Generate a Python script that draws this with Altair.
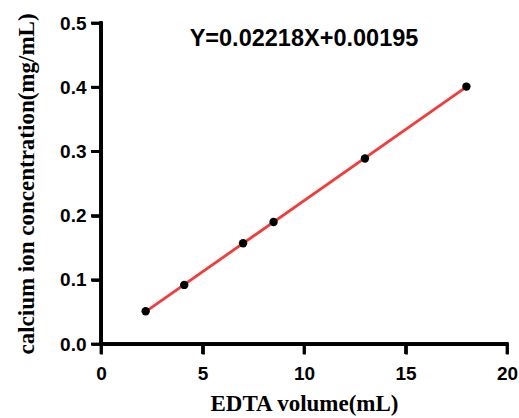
import altair as alt
import pandas as pd

# Data
edta_volume = [2.2, 4.1, 7.0, 8.5, 13.0, 18.0]
calcium_conc = [0.051, 0.092, 0.157, 0.190, 0.289, 0.401]
x_ticks = [0, 5, 10, 15, 20]
y_ticks = [0.0, 0.1, 0.2, 0.3, 0.4, 0.5]
equation = ["Y=0.02218X+0.00195"]

df = pd.DataFrame({"x": edta_volume, "y": calcium_conc})
xt = pd.DataFrame({"t": x_ticks})
yt = pd.DataFrame({"t": y_ticks})

AXIS_W = 2.8
TICK_LEN = 10
PLOT_W = 406
PLOT_H = 321

common_axis = dict(
    grid=False,
    ticks=True,
    tickSize=TICK_LEN,
    tickWidth=AXIS_W,
    tickColor="#000000",
    domain=True,
    domainWidth=AXIS_W,
    domainColor="#000000",
    labelFlush=False,
    labelFont="Liberation Sans",
    labelFontSize=19,
    labelFontWeight="bold",
    labelColor="black",
    titleFont="Liberation Serif",
    titleFontSize=23,
    titleFontWeight="bold",
    titleColor="black",
)

xscale = alt.Scale(domain=[0, 20], nice=False, zero=False)
yscale = alt.Scale(domain=[0, 0.5], nice=False)

x_enc = alt.X(
    "x:Q",
    scale=xscale,
    axis=alt.Axis(
        values=x_ticks,
        title="EDTA volume(mL)",
        titleY=66,
        titleBaseline="alphabetic",
        labelPadding=10,
        **common_axis,
    ),
)
y_enc = alt.Y(
    "y:Q",
    scale=yscale,
    axis=alt.Axis(
        values=y_ticks,
        format=".1f",
        title="calcium ion concentration(mg/mL)",
        titleX=-75,
        titleBaseline="middle",
        labelPadding=5,
        **common_axis,
    ),
)

line = (
    alt.Chart(df)
    .transform_regression("x", "y", method="linear")
    .mark_line(color="#f23c3c", strokeWidth=2.8)
    .encode(x=x_enc, y=y_enc)
)

points = (
    alt.Chart(df)
    .mark_circle(color="black", opacity=1, size=70)
    .encode(x=x_enc, y=y_enc)
)

# axis lines and ticks drawn as filled shapes through the scales
half = AXIS_W / 2
x_domain_bar = (
    alt.Chart(xt)
    .mark_rect(color="black")
    .encode(
        x=alt.value(-half),
        x2=alt.value(PLOT_W + half),
        y=alt.value(PLOT_H - half),
        y2=alt.value(PLOT_H + half),
    )
)
y_domain_bar = (
    alt.Chart(yt)
    .mark_rect(color="black")
    .encode(
        x=alt.value(-half),
        x2=alt.value(half),
        y=alt.value(-half),
        y2=alt.value(PLOT_H + half),
    )
)
x_tick_marks = (
    alt.Chart(xt)
    .mark_tick(color="black", orient="vertical", size=TICK_LEN, thickness=AXIS_W, opacity=1)
    .encode(x=alt.X("t:Q"), y=alt.value(PLOT_H + TICK_LEN / 2))
)
y_tick_marks = (
    alt.Chart(yt)
    .mark_tick(color="black", orient="horizontal", size=TICK_LEN, thickness=AXIS_W, opacity=1)
    .encode(y=alt.Y("t:Q"), x=alt.value(-TICK_LEN / 2))
)

eq_text = (
    alt.Chart(pd.DataFrame({"label": equation}))
    .mark_text(
        font="Liberation Sans",
        fontSize=23.5,
        fontWeight="bold",
        color="black",
        align="center",
        baseline="alphabetic",
    )
    .encode(x=alt.value(203), y=alt.value(23), text="label:N")
)

chart = (
    alt.layer(line, points, x_domain_bar, y_domain_bar, x_tick_marks, y_tick_marks, eq_text)
    .properties(
        width=PLOT_W,
        height=PLOT_H,
        autosize=alt.AutoSizeParams(type="none"),
        padding={"left": 101, "top": 23, "right": 12, "bottom": 74},
        background="white",
    )
    .configure_view(stroke="transparent", clip=False)
)

chart.save("out.html", embed_options={"renderer": "svg", "actions": False})
